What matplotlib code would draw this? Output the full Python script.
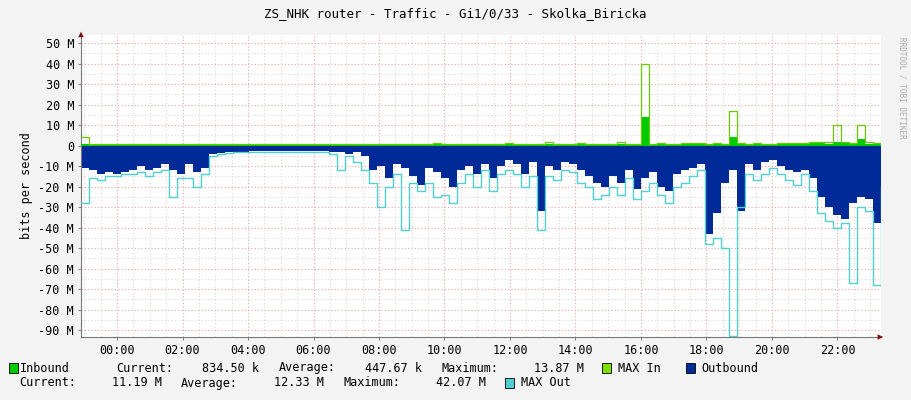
import numpy as np
import matplotlib
matplotlib.use("Agg")
import matplotlib.pyplot as plt
from matplotlib.patches import Rectangle

out_mbps = [11,12,14,13,14,13,12,10,12,11,9,12,14,9,13,11,4,3.5,3,3,
            3,2.5,2.5,2.5,2.5,2.5,2.5,2.5,2.5,2.5,2.5,3,3,4,3,5,12,10,16,9,
            11,15,19,11,13,16,20,12,10,14,9,16,10,7,9,14,8,32,10,12,
            8,9,12,15,18,20,15,18,12,21,16,13,20,22,14,12,11,9,43,33,
            18,12,32,9,12,8,7,10,12,13,12,16,25,30,34,36,28,25,26,38,11]
maxout_mbps = [28,16,17,15,15,14,14,13,15,13,12,25,16,16,20,14,5,4,3.5,3,
               3,3,3,3,3,3,3,3,3,3,3,4,12,5,8,12,18,30,20,14,
               41,18,22,18,25,24,28,18,14,20,12,22,14,12,14,20,15,41,15,17,
               12,13,18,20,26,24,20,24,16,26,22,18,24,28,20,18,15,12,48,45,
               50,93,30,14,17,14,11,14,17,19,14,22,33,37,40,38,67,30,32,68,20]
in_mbps = [1,0.5,0.4,0.5,0.3,0.4,0.5,0.4,0.5,0.6,0.4,0.5,0.5,0.4,0.5,0.4,0.3,0.3,0.3,0.3,
           0.3,0.3,0.3,0.3,0.3,0.3,0.3,0.3,0.3,0.3,0.3,0.3,0.4,0.4,0.5,0.5,0.5,0.4,0.5,0.5,
           0.5,0.4,0.5,0.5,0.6,0.5,0.5,0.5,0.4,0.5,0.5,0.5,0.5,0.6,0.5,0.5,0.5,0.5,0.6,0.5,
           0.5,0.5,0.6,0.5,0.5,0.5,0.5,0.8,0.6,0.5,14,0.5,0.6,0.5,0.5,0.8,0.9,0.7,0.6,0.8,
           0.6,4,0.8,0.6,0.6,0.5,0.6,0.8,0.9,1.0,1.0,1.2,1.1,1.0,2,1.1,1.0,3,1.0,0.8,0.9]
maxin_mbps = [4,1,1,1,1,1,1,1,1,1,1,1,1,1,1,1,0.8,0.8,0.8,0.8,
              0.8,0.8,0.8,0.8,0.8,0.8,0.8,0.8,0.8,0.8,0.8,0.8,1,1,1,1,1,1,1,1,
              1,1,1,1,1.2,1,1,1,1,1,1,1,1,1.2,1,1,1,1,2,1,
              1,1,1.2,1,1,1,1,2,1,1,40,1,1.2,1,1,1.5,1.5,1.5,1,1.5,
              1,17,1.5,1,1.5,1,1,1.5,1.5,1.5,1.5,2,2,2,10,2,1.5,10,2,1.5,4]
hour_ticks = list(range(0, 24, 2))
tick_labels = [f"{h:02d}:00" for h in hour_ticks]

t = -1.1 + np.arange(len(out_mbps)) * 0.2443
out_v = -np.array(out_mbps) * 1e6
maxout_v = -np.array(maxout_mbps) * 1e6
in_v = np.array(in_mbps) * 1e6
maxin_v = np.array(maxin_mbps) * 1e6

plt.rcParams['font.family'] = ['DejaVu Sans Mono']
fig = plt.figure(figsize=(9.11, 4.0), dpi=100, facecolor='#F3F3F3')
ax = fig.add_axes([81/911, 1-337/400, 800/911, 302/400])
ax.set_facecolor('white')
ax.set_xlim(-1.1, 23.33)
ax.set_ylim(-93.4e6, 54e6)

for h in np.arange(-1.0, 23.5, 0.5):
    major = abs(h/2 - round(h/2)) < 1e-6
    ax.axvline(h, color='#F0A0A0' if major else '#D8D8D8', lw=0.8, ls=(0, (1, 2)), zorder=0)
for v in np.arange(-90, 55, 5):
    major = v % 10 == 0
    ax.axhline(v*1e6, color='#F0A0A0' if major else '#D8D8D8', lw=0.8, ls=(0, (1, 2)), zorder=0)

ax.fill_between(t, 0, out_v, step='post', color='#002A97', lw=0, zorder=2)
ax.plot(t, maxout_v, drawstyle='steps-post', color='#50D0D0', lw=1, zorder=3)
ax.fill_between(t, 0, in_v, step='post', color='#00CC00', lw=0, zorder=4)
ax.plot(t, maxin_v, drawstyle='steps-post', color='#66CC00', lw=0.9, zorder=5)

yt = np.arange(-90, 51, 10)
ax.set_yticks(yt*1e6)
ax.set_yticklabels([f"{v} M" if v != 0 else "0" for v in yt], fontsize=8.5)
ax.set_xticks(hour_ticks)
ax.set_xticklabels(tick_labels, fontsize=8.5)
ax.tick_params(length=2, color='#888888', pad=3)
for s in ['top', 'right']:
    ax.spines[s].set_visible(False)
for s in ['left', 'bottom']:
    ax.spines[s].set_color('#777777')
ax.set_ylabel('bits per second', fontsize=8.5)
ax.annotate('', xy=(23.33+0.15, -93.4e6), xytext=(23.0, -93.4e6),
            arrowprops=dict(arrowstyle='-|>', color='#7F1010', lw=0), annotation_clip=False)
ax.annotate('', xy=(-1.1, 57e6), xytext=(-1.1, 52e6),
            arrowprops=dict(arrowstyle='-|>', color='#7F1010', lw=0), annotation_clip=False)

fig.text(0.5, 1-14/400, 'ZS_NHK router - Traffic - Gi1/0/33 - Skolka_Biricka', ha='center', va='center', fontsize=9)
fig.text(902/911, 0.5+0.28, 'RRDTOOL / TOBI OETIKER', rotation=270, ha='center', va='center', fontsize=5.5, color='#AAAAAA')

FS = 8.5
def txt(x, y, s, ha='left'):
    fig.text(x/911, 1-y/400, s, fontsize=FS, va='center', ha=ha)

def box(x, y, col):
    fig.patches.append(Rectangle((x/911, 1-(y+5)/400), 9/911, 10/400, facecolor=col, edgecolor='black', lw=0.6, transform=fig.transFigure))

y1, y2 = 368, 383
box(9, y1, '#00CC00'); txt(20, y1, 'Inbound')
txt(116, y1, 'Current:'); txt(259, y1, '834.50 k', 'right')
txt(279, y1, 'Average:'); txt(422, y1, '447.67 k', 'right')
txt(441, y1, 'Maximum:'); txt(584, y1, '13.87 M', 'right')
box(602, y1, '#7FE000'); txt(618, y1, 'MAX In')
box(686, y1, '#002A97'); txt(701, y1, 'Outbound')
txt(19, y2, 'Current:'); txt(162, y2, '11.19 M', 'right')
txt(181, y2, 'Average:'); txt(324, y2, '12.33 M', 'right')
txt(343, y2, 'Maximum:'); txt(486, y2, '42.07 M', 'right')
box(505, y2, '#50D0D0'); txt(521, y2, 'MAX Out')

fig.savefig('out.png', dpi=100, facecolor=fig.get_facecolor())
